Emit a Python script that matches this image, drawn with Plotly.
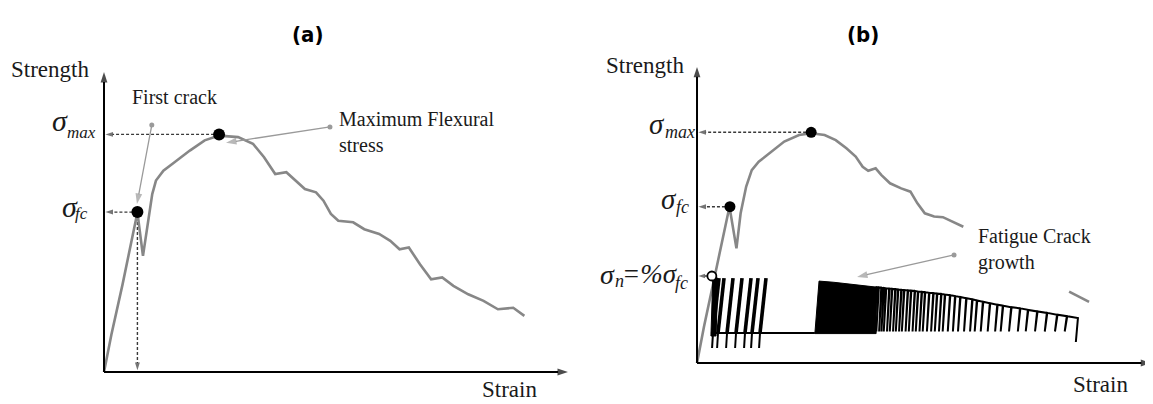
import plotly.graph_objects as go

# ---------------- Panel (a): monotonic flexural test ----------------
a_strain = [0.0, 1.6, 4.0, 6.0, 7.2, 8.4, 9.6, 10.4, 11.2, 12.8, 15.2, 18.5, 21.7, 24.8,
            28.9, 32.1, 34.5, 36.9, 39.3, 40.9, 43.3, 45.7, 47.3, 48.9, 50.5, 53.7,
            56.1, 59.3, 61.7, 63.7, 65.7, 68.1, 70.5, 72.9, 75.3, 78.5, 81.8, 84.9, 88.2, 90.6]
a_strength = [0.0, 12.5, 29.2, 43.7, 53.2, 38.7, 51.5, 59.3, 63.8, 67.1, 69.9, 73.8, 77.2, 78.8,
              78.3, 76.1, 71.6, 66.0, 66.6, 64.4, 61.0, 59.9, 57.1, 52.7, 50.4, 49.9,
              47.6, 46.0, 43.7, 40.9, 41.5, 35.9, 30.9, 31.5, 28.7, 25.9, 23.7, 20.9, 21.4, 18.7]
a_fc = (7.2, 53.3)      # first crack (strain, strength)
a_max = (24.8, 79.2)    # maximum flexural stress
a_axis_end = (100.0, 100.0)

# ---------------- Panel (b): fatigue loading ----------------
b_strain = [0.0, 1.5, 3.5, 5.1, 7.0, 8.5, 9.4, 10.6, 11.8, 13.3, 15.7, 18.8, 22.0, 24.6,
            27.5, 29.9, 32.2, 34.2, 35.7, 36.9, 38.5, 39.7, 41.6, 44.0, 46.0, 47.5,
            49.1, 51.1, 53.0, 55.0, 57.4]
b_strength = [0.0, 12.1, 26.6, 38.8, 52.1, 38.2, 49.9, 58.8, 64.3, 67.1, 69.9, 73.8, 76.0, 76.6,
              76.0, 74.3, 71.6, 68.8, 65.4, 64.1, 64.9, 62.7, 59.9, 58.2, 57.1, 53.2,
              49.9, 48.8, 48.6, 47.1, 45.4]
b_tail_strain = [80.2, 82.5, 84.5]
b_tail_strength = [23.8, 22.1, 20.4]
b_fc = (7.1, 52.1)
b_max = (24.6, 76.9)
b_n = (3.2, 29.0)       # fatigue stress level sigma_n
b_axis_end = (97.9, 98.7)

# first fatigue block (cycles at sigma_n)
f1_block_strain = [3.0, 3.4, 4.5, 4.1]
f1_block_strength = [9.0, 28.3, 28.3, 9.0]
f1_base_strain = [3.45, 4.53, 6.47, 8.41, 10.34, 11.85, 13.58]
f1_peak_strain = [4.74, 5.82, 7.76, 9.70, 11.64, 13.15, 14.87]
f1_peak = 28.3
f1_base = 10.0
f1_tail = 5.0
f1_baseline_strain = [3.0, 25.4]

# second fatigue block (crack growth)
f2_block_strain = [25.4, 26.3, 29.5, 34.5, 38.6, 38.6]
f2_block_strength = [9.8, 27.3, 26.9, 26.0, 25.3, 9.8]
f2_strain = [38.6, 39.1, 39.7, 40.2, 40.7, 41.4, 42.0, 42.7, 43.3, 44.0, 44.6, 45.4, 46.1,
             46.9, 47.6, 48.4, 49.1, 50.0, 50.9, 51.7, 52.6, 53.4, 54.5, 55.6, 56.7, 58.0,
             59.3, 60.3, 61.6, 63.1, 64.7, 65.9, 67.7, 69.6, 71.3, 73.3, 75.4, 77.6, 79.7, 82.1]
f2_peak = [25.3, 25.2, 25.1, 25.0, 24.9, 24.8, 24.7, 24.6, 24.5, 24.4, 24.3, 24.2, 24.1,
           24.0, 23.8, 23.7, 23.6, 23.4, 23.3, 23.1, 23.0, 22.8, 22.6, 22.3, 22.0, 21.6,
           21.2, 20.8, 20.4, 19.9, 19.4, 19.1, 18.6, 18.2, 17.7, 17.2, 16.7, 16.1, 15.6, 15.0]
f2_trough = 10.5
f2_final_trough = 7.0

# pointer arrows (tail dot -> head)
a_crack_ptr = ([10.3, 7.1], [82.3, 56.0])
a_max_ptr = ([48.7, 26.3], [81.7, 76.4])
b_fatigue_ptr = ([55.4, 34.5], [36.0, 28.7])

SERIF = "Liberation Serif, Times New Roman, serif"
TITLE_FONT = "Liberation Sans Narrow, DejaVu Sans Condensed, Roboto Condensed, Arial Narrow, sans-serif"
CURVE = "#878787"
DASH = "#3a3a3a"
POINTER = "#9a9a9a"

fig = go.Figure()


def axes_of(ax):
    n = "" if ax == 1 else str(ax)
    return "x" + n, "y" + n


def line(xs, ys, ax, color, width, dash=None, fill=None):
    xa, ya = axes_of(ax)
    fig.add_trace(go.Scatter(
        x=xs, y=ys, mode="lines", xaxis=xa, yaxis=ya,
        line=dict(color=color, width=width, dash=dash),
        fill=fill, fillcolor=color if fill else None,
        hoverinfo="skip", showlegend=False))


def arrow_line(xs, ys, ax, color, width, head, dash=None):
    """Line from first to last point with an arrowhead at the last point."""
    xa, ya = axes_of(ax)
    fig.add_trace(go.Scatter(
        x=xs, y=ys, mode="lines+markers", xaxis=xa, yaxis=ya,
        line=dict(color=color, width=width, dash=dash),
        marker=dict(symbol="arrow", angleref="previous", size=[0] * (len(xs) - 1) + [head],
                    color=color, line=dict(width=0)),
        hoverinfo="skip", showlegend=False))


def dots(xs, ys, ax, size, color, fillcolor=None, lw=0):
    xa, ya = axes_of(ax)
    fig.add_trace(go.Scatter(
        x=xs, y=ys, mode="markers", xaxis=xa, yaxis=ya,
        marker=dict(size=size, color=fillcolor or color, line=dict(color=color, width=lw)),
        hoverinfo="skip", showlegend=False))


annotations = []


def label(ax_id, x, y, text, size, xanchor="center", yanchor="middle", align="left",
          family=SERIF, color="#1a1a1a", style="normal"):
    xa, ya = axes_of(ax_id)
    annotations.append(dict(
        xref=xa, yref=ya, x=x, y=y, text=text, showarrow=False,
        xanchor=xanchor, yanchor=yanchor, align=align,
        font=dict(family=family, size=size, color=color, style=style)))


def symbol(ax_id, x, y, main, sub, sx, sy, size=30, sub_size=17):
    """Italic Greek symbol with an italic subscript placed to its lower right."""
    label(ax_id, x, y, main, size, xanchor="right", style="italic")
    label(ax_id, sx, sy, sub, sub_size, xanchor="left", style="italic")


# ======== Panel (a) ========
arrow_line([a_max[0], 0.3], [a_max[1], a_max[1]], 1, DASH, 1.4, 8, "3px,2px")
arrow_line([a_fc[0], 0.3], [a_fc[1], a_fc[1]], 1, DASH, 1.4, 8, "3px,2px")
arrow_line([a_fc[0], a_fc[0]], [a_fc[1], 0.6], 1, DASH, 1.4, 8, "3px,2px")
line(a_strain, a_strength, 1, CURVE, 2.6)
dots([a_fc[0], a_max[0]], [a_fc[1], a_max[1]], 1, 12, "black")
arrow_line([0, 0], [0, a_axis_end[1]], 1, "black", 2.0, 11)
arrow_line([0, a_axis_end[0]], [0, 0], 1, "black", 2.0, 11)
arrow_line(*a_crack_ptr, 1, POINTER, 1.3, 11)
arrow_line(*a_max_ptr, 1, POINTER, 1.3, 11)
dots([a_crack_ptr[0][0], a_max_ptr[0][0]], [a_crack_ptr[1][0], a_max_ptr[1][0]], 1, 5, POINTER)

label(1, -20.4, 100.7, "Strength", 23, xanchor="left")
label(1, 81.0, -6.0, "Strain", 23, xanchor="left")
label(1, 15.3, 91.7, "First crack", 20)
label(1, 50.2, 80.0, "Maximum Flexural<br>stress", 20, xanchor="left")
symbol(1, -7.3, 83.8, "σ", "max", -8.4, 79.7)
symbol(1, -5.2, 55.3, "σ", "fc", -6.7, 52.7)

# ======== Panel (b) ========
arrow_line([b_max[0], 0.3], [b_max[1], b_max[1]], 2, DASH, 1.4, 8, "3px,2px")
arrow_line([b_fc[0], 0.3], [b_fc[1], b_fc[1]], 2, DASH, 1.4, 8, "3px,2px")
arrow_line([b_n[0], 0.3], [b_n[1], b_n[1]], 2, DASH, 1.4, 7, "3px,2px")

line(b_strain, b_strength, 2, CURVE, 2.6)
line(b_tail_strain, b_tail_strength, 2, CURVE, 2.6)

# fatigue block 1
line(f1_block_strain + [f1_block_strain[0]], f1_block_strength + [f1_block_strength[0]], 2,
     "black", 1, fill="toself")
line(f1_baseline_strain, [f1_base, f1_base], 2, "black", 2.0)
bx, by, tx, ty = [], [], [], []
for s0, s1 in zip(f1_base_strain, f1_peak_strain):
    bx += [s0, s1, None]
    by += [f1_base, f1_peak, None]
    tx += [s0, s0 - 0.2, None]
    ty += [f1_base, f1_tail, None]
line(bx, by, 2, "black", 3.6)
line(tx, ty, 2, "black", 2.0)

# fatigue block 2
line(f2_block_strain + [f2_block_strain[0]], f2_block_strength + [f2_block_strength[0]], 2,
     "black", 1, fill="toself")
sx, sy = [f2_block_strain[-2]], [f2_block_strength[-2]]
for i, (s, p) in enumerate(zip(f2_strain, f2_peak)):
    low = f2_final_trough if i == len(f2_strain) - 1 else f2_trough
    sx += [s, s - 0.45, s + 0.1]
    sy += [p, low, p]
line(sx[:-1], sy[:-1], 2, "black", 2.0)

dots([b_fc[0], b_max[0]], [b_fc[1], b_max[1]], 2, 11, "black")
dots([b_n[0]], [b_n[1]], 2, 9, "black", fillcolor="white", lw=1.8)

arrow_line([0, 0], [0, b_axis_end[1]], 2, "black", 2.0, 11)
arrow_line([0, b_axis_end[0]], [0, 0], 2, "black", 2.0, 11)
arrow_line(*b_fatigue_ptr, 2, POINTER, 1.3, 11)
dots([b_fatigue_ptr[0][0]], [b_fatigue_ptr[1][0]], 2, 5, POINTER)

label(2, -20.0, 99.3, "Strength", 23, xanchor="left")
label(2, 80.6, -7.3, "Strain", 23, xanchor="left")
label(2, 60.1, 37.7, "Fatigue Crack<br>growth", 20, xanchor="left")
symbol(2, -6.5, 79.8, "σ", "max", -7.3, 77.0, size=29, sub_size=18)
symbol(2, -3.9, 54.7, "σ", "fc", -5.0, 52.0, size=29, sub_size=18)
symbol(2, -17.2, 29.5, "σ", "n", -18.1, 27.3, size=28, sub_size=18)
label(2, -16.6, 29.5, "=%σ", 27, xanchor="left", style="italic")
label(2, -5.2, 26.7, "fc", 18, xanchor="left", style="italic")

# panel titles (page has an 8px body margin, so the figure is 8px smaller)
W, H = 1145, 396
annotations.append(dict(xref="paper", yref="paper", x=282 / W, y=1 - 12 / H, text="<b>(a)</b>",
                        showarrow=False, font=dict(family=TITLE_FONT, size=22, color="black")))
annotations.append(dict(xref="paper", yref="paper", x=873 / W, y=1 - 12 / H, text="<b>(b)</b>",
                        showarrow=False, font=dict(family=TITLE_FONT, size=22, color="black")))

fig.update_layout(
    width=W, height=H,
    margin=dict(l=0, r=0, t=0, b=0),
    paper_bgcolor="white", plot_bgcolor="white",
    showlegend=False,
    xaxis=dict(domain=[0, 572 / W], range=[-20.69, 102.59], visible=False),
    yaxis=dict(domain=[0, 1], range=[-10.67, 121.33], visible=False),
    xaxis2=dict(domain=[572 / W, 1], range=[-25.22, 98.28], visible=False),
    yaxis2=dict(domain=[0, 1], range=[-13.67, 118.33], visible=False, anchor="x2"),
    annotations=annotations,
)

fig.write_html("out.html")
